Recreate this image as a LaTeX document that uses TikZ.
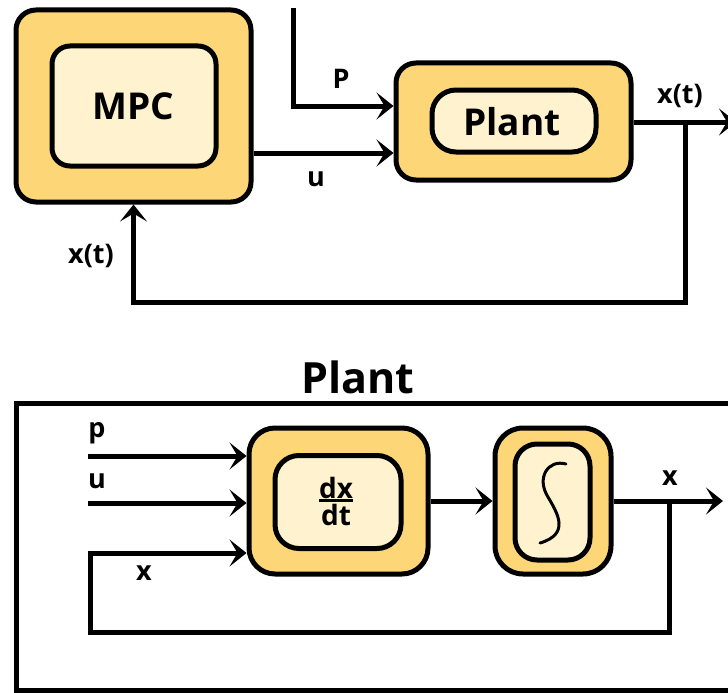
\documentclass[tikz,border=0pt]{standalone}
\usepackage{fontspec}
\setmainfont{Open Sans}
\usetikzlibrary{arrows.meta}
\definecolor{outerfill}{HTML}{FDD677}
\definecolor{innerfill}{HTML}{FFF3CF}
\tikzset{
  outerbox/.style={draw, line width=5pt, fill=outerfill, rounded corners=20pt, inner sep=0pt},
  innerbox/.style={draw, line width=5pt, fill=innerfill, rounded corners=18pt, inner sep=0pt},
  arr/.style={line width=5pt, arrows={-Stealth[length=17pt, width=27pt, inset=8pt]}},
  lbl/.style={font=\fontsize{27}{30}\selectfont\bfseries, inner sep=0pt},
  bigtxt/.style={font=\fontsize{37}{42}\selectfont\bfseries, inner sep=0pt},
}
\begin{document}
\begin{tikzpicture}[x=1pt,y=-1pt]
\useasboundingbox (0,0) rectangle (728,693);
% ---------- top diagram ----------
\node[outerbox, minimum width=235pt, minimum height=192pt] (mpc) at (133.5,106) {};
\node[innerbox, minimum width=164pt, minimum height=120pt] (mpcin) at (134,106) {};
\node[bigtxt] (mpct) at (133,106) {MPC};

\node[outerbox, minimum width=235pt, minimum height=117pt] (plant) at (513.5,121.5) {};
\node[innerbox, rounded corners=24pt, minimum width=164pt, minimum height=62pt] (plantin) at (514,121) {};
\node[bigtxt] (plantt) at (512,122) {Plant};

\coordinate (ptop) at (293,8);
\draw[arr] (ptop) |- (plant.west |- 0,106);
\draw[arr] (mpc.east |- 0,153) -- (plant.west |- 0,153);
\coordinate (out1) at (736,122);
\coordinate (j1) at (685,122);
\draw[arr] (plant.east |- 0,122) -- (out1);
\draw[arr] (j1) |- (mpc.south |- 0,302) -- (mpc.south);

\node[lbl] (lP) at (341,79) {P};
\node[lbl] (lu) at (316,179) {u};
\node[lbl] (lx1) at (680,96) {x(t)};
\node[lbl] (lx2) at (91,256) {x(t)};

% ---------- bottom diagram ----------
\node[font=\fontsize{43}{48}\selectfont\bfseries, inner sep=0pt] (title) at (358,377) {Plant};
\draw[line width=5pt] (16,403) rectangle (750,690);

\node[outerbox, rounded corners=26pt, minimum width=179pt, minimum height=146pt] (dxdt) at (338.5,501) {};
\node[innerbox, rounded corners=24pt, minimum width=126pt, minimum height=93pt] (dxdtin) at (338,502) {};
\node[font=\fontsize{28}{30}\selectfont\bfseries, inner sep=0pt, anchor=south] (dxn) at (336,499) {dx};
\node[font=\fontsize{28}{30}\selectfont\bfseries, inner sep=0pt, anchor=north] (dtn) at (336,504) {dt};
\draw[line width=2.5pt] ([yshift=-1.5pt]dxn.south west) -- ([yshift=-1.5pt]dxn.south east);

\node[outerbox, rounded corners=28pt, minimum width=116pt, minimum height=146pt] (int) at (553,501) {};
\node[innerbox, rounded corners=22pt, minimum width=75pt, minimum height=116pt] (intin) at (552.5,502) {};
\draw[line width=3pt, line cap=round] (566,464) .. controls (548,459) and (536,478) .. (548,497)
  .. controls (558,514) and (570,534) .. (540,543);

\coordinate (pin) at (88,456);
\coordinate (uin) at (88,503);
\draw[arr] (pin) -- (dxdt.west |- pin);
\draw[arr] (uin) -- (dxdt.west |- uin);
\draw[arr] (dxdt.east) -- (int.west);
\coordinate (out2) at (723,501);
\coordinate (j2) at (669,501);
\draw[arr] (int.east) -- (out2);
\draw[arr] (j2) |- (90,632) |- (dxdt.west |- 0,553);

\node[lbl] (lp) at (97,433) {p};
\node[lbl] (lu2) at (97,481) {u};
\node[lbl] (lx3) at (144,573) {x};
\node[lbl] (lx4) at (670,478) {x};
\end{tikzpicture}
\end{document}
